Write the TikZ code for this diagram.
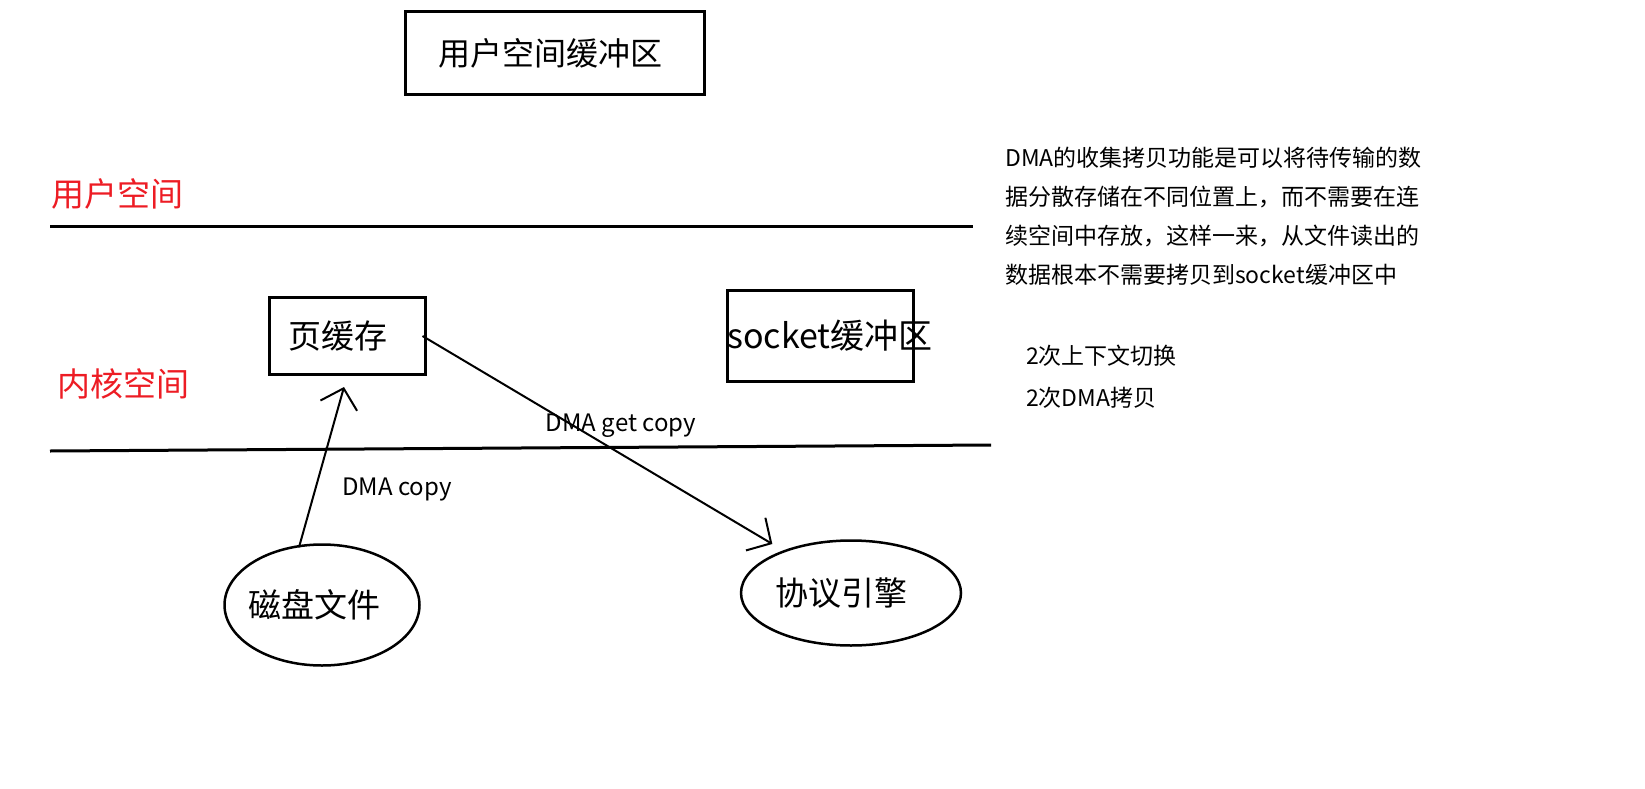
\documentclass[tikz,border=0pt]{standalone}
\usepackage{fontspec}
\setmainfont{Noto Sans CJK SC}
\usepackage{tikz}
\usetikzlibrary{shapes.geometric, arrows, calc, positioning, arrows.meta}
\definecolor{spacered}{RGB}{237,28,36}
\tikzstyle{buffer} = [rectangle, line width=3pt, inner sep=0pt, font=\fontsize{33}{39}\selectfont, draw=black]
\tikzstyle{device} = [ellipse, line width=2.5pt, inner sep=0pt, font=\fontsize{33}{39}\selectfont, draw=black]
\tikzstyle{spacelabel} = [inner sep=0pt, text=spacered, font=\fontsize{33}{39}\selectfont]
\tikzstyle{copylabel} = [inner sep=0pt, font=\fontsize{24}{28}\selectfont]
\tikzstyle{note} = [inner sep=0pt, align=left, font=\fontsize{23}{39}\selectfont]
\tikzstyle{divider} = [line width=3pt]
\tikzstyle{arrow} = [line width=2pt, -{Straight Barb[length=18pt, width=38pt]}]

\begin{document}
\begin{tikzpicture}[x=1pt, y=-1pt, node distance = 10mm, auto]
	\useasboundingbox (0,0) rectangle (1645,789);
	% user space
	\node (userbuf) [buffer, minimum width=299pt, minimum height=83pt, font=\fontsize{32}{38}\selectfont] at (555,53) {\hspace{-10pt}用户空间缓冲区};
	\node (userspace) [spacelabel, anchor=west] at (51,194) {用户空间};
	\coordinate (topL) at (50,226);
	\coordinate (topR) at (973,226);
	\draw[divider] (topL) -- (topR);
	% kernel space
	\node (kernelspace) [spacelabel, anchor=west] at (57,384) {内核空间};
	\node (pagecache) [buffer, minimum width=156pt, minimum height=77pt] at (347,336) {\hspace{-18pt}页缓存};
	\node (socketbuf) [buffer, minimum width=186pt, minimum height=91pt, label={[font=\fontsize{34}{40}\selectfont, xshift=10pt]center:socket缓冲区}] at (820,336) {};
	\coordinate (bottomL) at (50,451);
	\coordinate (bottomR) at (991,445);
	\draw[divider] (bottomL) -- (bottomR);
	% hardware
	\node (disk) [device, minimum width=195pt, minimum height=121pt] at (322,605) {\hspace{-16pt}磁盘文件};
	\node (engine) [device, minimum width=220pt, minimum height=105pt] at (851,593) {\hspace{-20pt}协议引擎};
	\draw[arrow] ([xshift=-23pt, yshift=-4pt]disk.north) -- ([xshift=-3pt, yshift=-11pt]pagecache.south);
	\draw[arrow] ([xshift=-4pt]pagecache.east) -- ([yshift=11pt]engine.north west);
	\node (dmacopy) [copylabel] at (397,490) {DMA copy};
	\node (dmaget) [copylabel] at (621,426) {DMA get copy};
	% notes
	\node (gathernote) [note, anchor=north west] at (1005,147) {DMA的收集拷贝功能是可以将待传输的数\\据分散存储在不同位置上，而不需要在连\\续空间中存放，这样一来，从文件读出的\\数据根本不需要拷贝到socket缓冲区中};
	\node (countnote) [note, anchor=north west, font=\fontsize{23}{42}\selectfont] at (1026,345) {2次上下文切换\\2次DMA拷贝};
\end{tikzpicture}
\end{document}
